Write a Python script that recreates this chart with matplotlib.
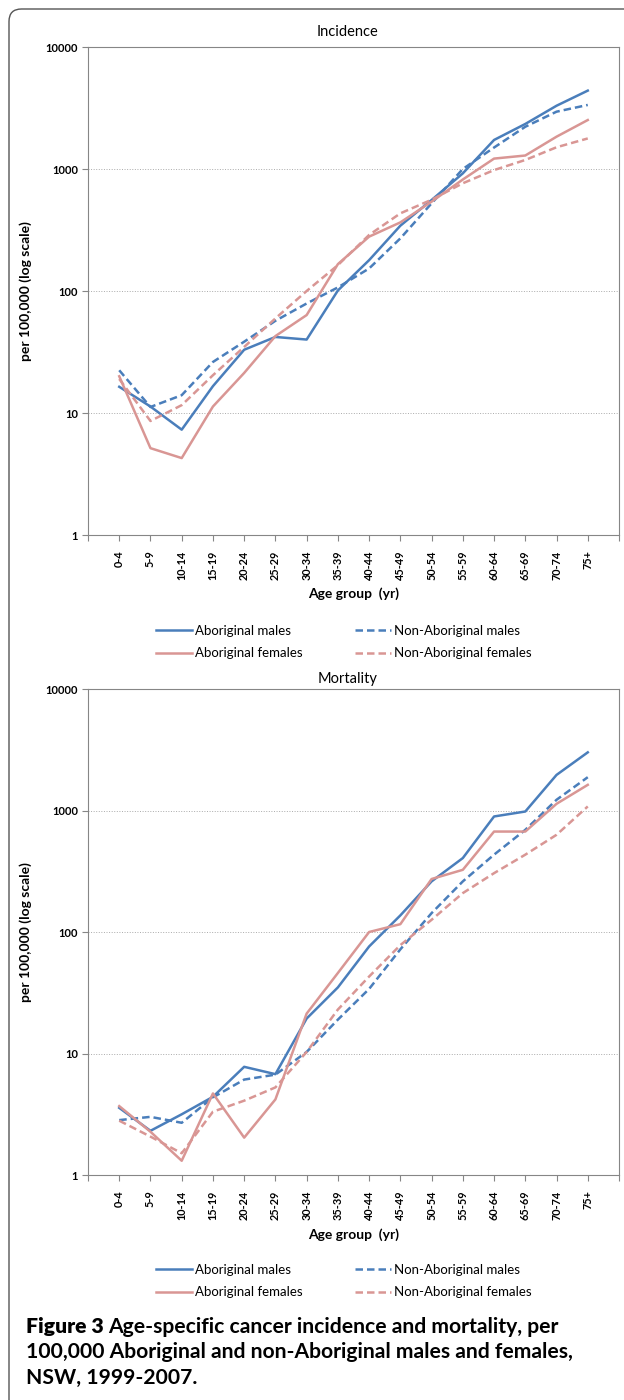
import numpy as np
import matplotlib
matplotlib.use('Agg')
import matplotlib.pyplot as plt
from matplotlib.patches import FancyBboxPatch
from matplotlib.lines import Line2D

plt.rcParams['font.family'] = ['Lato', 'DejaVu Sans']

ages = ['0-4', '5-9', '10-14', '15-19', '20-24', '25-29', '30-34', '35-39',
        '40-44', '45-49', '50-54', '55-59', '60-64', '65-69', '70-74', '75+']

# incidence per 100,000
inc_abo_m = [16.4, 11.3, 7.3, 16.6, 33, 42, 40, 101, 179, 343, 557, 921, 1730, 2340, 3300, 4390]
inc_non_m = [22.4, 11.2, 14.0, 26.2, 38.4, 57, 79, 107, 153, 270, 523, 1000, 1500, 2220, 2950, 3350]
inc_abo_f = [20, 5.15, 4.27, 11.3, 21.3, 42.7, 63.5, 166, 279, 365, 540, 820, 1217, 1290, 1840, 2520]
inc_non_f = [19, 8.6, 11.6, 20.4, 34.8, 59.6, 100, 163, 288, 433, 560, 764, 980, 1186, 1507, 1780]

# mortality per 100,000
mor_abo_m = [3.57, 2.31, 3.16, 4.4, 7.77, 6.76, 19.4, 35, 76, 137, 261, 406, 893, 981, 1963, 3010]
mor_non_m = [2.83, 3.01, 2.69, 4.35, 6.1, 6.7, 10.3, 19, 34, 72, 143, 261, 433, 693, 1225, 1880]
mor_abo_f = [3.69, 2.27, 1.31, 4.69, 2.03, 4.19, 21.3, 46, 100, 116, 273, 325, 671, 671, 1135, 1626]
mor_non_f = [2.8, 2.07, 1.51, 3.32, 4.09, 5.26, 10.3, 23, 43, 78, 126, 209, 305, 433, 631, 1080]

labels = ['Aboriginal males', 'Non-Aboriginal males',
          'Aboriginal females', 'Non-Aboriginal females']

BLUE = '#4A7EBB'
PINK = '#D99694'

fig = plt.figure(figsize=(6.24, 14.0), dpi=100)

# rounded frame of the figure panel (right/bottom edges run off the page)
frame = FancyBboxPatch((9/624, -0.05), 1.2, 1 - 9/1400 + 0.05,
                       boxstyle='round,pad=0,rounding_size=0.02',
                       transform=fig.transFigure, fill=False,
                       edgecolor='#555555', lw=1.0, mutation_aspect=624/1400)
fig.patches.append(frame)


def panel(rect, title, series, title_y, xlab_y, leg_y):
    ax = fig.add_axes(rect)
    x = np.arange(len(ages))
    styles = [(BLUE, '-'), (BLUE, (0, (3, 1.6))), (PINK, '-'), (PINK, (0, (3, 1.6)))]
    for vals, (c, ls) in zip(series, styles):
        ax.plot(x, vals, color=c, ls=ls, lw=1.8)
    ax.set_yscale('log')
    ax.set_ylim(1, 10000)
    ax.set_xlim(-1, 16)
    ax.set_yticks([1, 10, 100, 1000, 10000])
    ax.set_yticklabels(['1', '10', '100', '1000', '10000'], fontsize=8, fontweight='bold')
    ax.yaxis.set_minor_locator(matplotlib.ticker.NullLocator())
    ax.set_xticks(np.arange(-1, 17))
    ax.set_xticklabels([''] + ages + [''], rotation=90, fontsize=7.8, fontweight='bold')
    ax.tick_params(axis='both', direction='out', length=4, color='#868686', pad=3)
    ax.tick_params(axis='x', pad=7)
    for s in ax.spines.values():
        s.set_color('#868686')
    ax.grid(axis='y', which='major', ls=':', color='#AAAAAA', lw=0.7)
    ax.set_axisbelow(True)
    ax.set_ylabel('per 100,000 (log scale)', fontsize=10, fontweight='bold', labelpad=10)
    fig.text(348/624, 1 - title_y/1400, title, ha='center', va='center', fontsize=10.5)
    fig.text(354/624, 1 - xlab_y/1400, 'Age group  (yr)', ha='center', va='center',
             fontsize=10, fontweight='bold')
    handles = [Line2D([], [], color=c, ls=ls, lw=1.8) for c, ls in styles]
    # legend fills column by column, so order for rows: males / females
    order = [0, 2, 1, 3]
    fig.legend([handles[i] for i in order], [labels[i] for i in order],
               loc='center', ncol=2, frameon=False,
               bbox_to_anchor=(344/624, 1 - leg_y/1400), fontsize=9.5,
               handlelength=2.7, handletextpad=0.25, columnspacing=4.0,
               labelspacing=0.8)
    return ax


panel([88/624, 1 - 535/1400, 531/624, 488/1400], 'Incidence',
      [inc_abo_m, inc_non_m, inc_abo_f, inc_non_f], 32, 594, 642)
panel([88/624, 1 - 1175/1400, 531/624, 486/1400], 'Mortality',
      [mor_abo_m, mor_non_m, mor_abo_f, mor_non_f], 679, 1235, 1281)

cap_x = 26/624
fig.text(cap_x, 1 - 1327/1400, 'Figure 3', fontsize=15.2, fontweight='heavy', va='center')
fig.text(cap_x + 82/624, 1 - 1327/1400, 'Age-specific cancer incidence and mortality, per',
         fontsize=15.2, fontweight='bold', va='center')
fig.text(cap_x, 1 - 1352/1400, '100,000 Aboriginal and non-Aboriginal males and females,',
         fontsize=15.2, fontweight='bold', va='center')
fig.text(cap_x, 1 - 1378/1400, 'NSW, 1999-2007.', fontsize=15.2, fontweight='bold', va='center')

fig.savefig('out.png', dpi=100)
